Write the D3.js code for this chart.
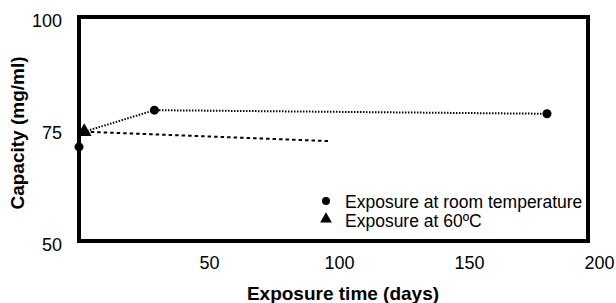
<!DOCTYPE html>
<html><head><meta charset="utf-8">
<script src="https://cdn.jsdelivr.net/npm/d3@7"></script>
<style>body{margin:0;background:#fff}svg{display:block}</style>
</head><body>
<svg id="c" width="616" height="303"></svg>
<script>
// Data
const roomDays = [0, 29, 180];
const roomCapacity = [71.0, 79.2, 78.4];
const roomLineDays = [2, 29, 180];
const roomLineCapacity = [74.4, 79.2, 78.4];
const hotDays = [2];
const hotCapacity = [74.4];
const hotLineDays = [2, 96];
const hotLineCapacity = [74.4, 72.3];
const xTicks = [50, 100, 150, 200];
const yTicks = [50, 75, 100];
const legendLabels = ["Exposure at room temperature", "Exposure at 60\u00BAC"];

const svg = d3.select("#c");
const font = "'Liberation Sans', Arial, sans-serif";
const x = d3.scaleLinear().domain([0, 200]).range([79, 599]);
const y = d3.scaleLinear().domain([50, 100]).range([241, 17]);
const boxRight = 588;

// plot box
svg.append("rect").attr("x", x(0)).attr("y", y(100))
  .attr("width", boxRight - x(0)).attr("height", y(50) - y(100))
  .attr("fill", "none").attr("stroke", "#000").attr("stroke-width", 4);

// axes (labels only)
const xAxis = d3.axisBottom(x).tickValues(xTicks).tickSize(0).tickPadding(0);
const gx = svg.append("g").attr("transform", `translate(0,${y(50) + 15})`).call(xAxis);
gx.select(".domain").remove();
gx.selectAll("text").attr("font-family", font).attr("font-size", 18).attr("fill", "#000").attr("dy", "0.71em");

const yAxis = d3.axisLeft(y).tickValues(yTicks).tickSize(0).tickPadding(0);
const gy = svg.append("g").attr("transform", `translate(62,4)`).call(yAxis);
gy.select(".domain").remove();
gy.selectAll("text").attr("font-family", font).attr("font-size", 18).attr("fill", "#000");

// lines
const line = d3.line().x(d => x(d[0])).y(d => y(d[1]));
svg.append("path").datum(roomLineDays.map((d, i) => [d, roomLineCapacity[i]]))
  .attr("d", line).attr("fill", "none").attr("stroke", "#000")
  .attr("stroke-width", 2).attr("stroke-dasharray", "1.5,1.5");
svg.append("path").datum(hotLineDays.map((d, i) => [d, hotLineCapacity[i]]))
  .attr("d", line).attr("fill", "none").attr("stroke", "#000")
  .attr("stroke-width", 2).attr("stroke-dasharray", "3.5,3");

// markers
svg.selectAll(".room").data(roomDays.map((d, i) => [d, roomCapacity[i]])).enter()
  .append("circle").attr("cx", d => x(d[0])).attr("cy", d => y(d[1])).attr("r", 4.5).attr("fill", "#000");
const tri = d3.symbol().type(d3.symbolTriangle).size(95);
svg.selectAll(".hot").data(hotDays.map((d, i) => [d, hotCapacity[i]])).enter()
  .append("path").attr("d", tri).attr("transform", d => `translate(${x(d[0])},${y(d[1])})`).attr("fill", "#000");

// legend
const lg = svg.append("g");
lg.append("circle").attr("cx", 326).attr("cy", 201).attr("r", 4).attr("fill", "#000");
lg.append("path").attr("d", d3.symbol().type(d3.symbolTriangle).size(60)).attr("transform", "translate(326,219)").attr("fill", "#000");
legendLabels.forEach((t, i) => {
  lg.append("text").attr("x", 345).attr("y", 208 + i * 19).attr("font-family", font)
    .attr("font-size", 17.5).attr("fill", "#000").text(t);
});

// axis titles
svg.append("text").attr("x", 343).attr("y", 300).attr("text-anchor", "middle")
  .attr("font-family", font).attr("font-size", 19).attr("font-weight", "bold").text("Exposure time (days)");
svg.append("text").attr("transform", "translate(24,133) rotate(-90)").attr("text-anchor", "middle")
  .attr("font-family", font).attr("font-size", 19).attr("font-weight", "bold").text("Capacity (mg/ml)");
</script>
</body></html>
